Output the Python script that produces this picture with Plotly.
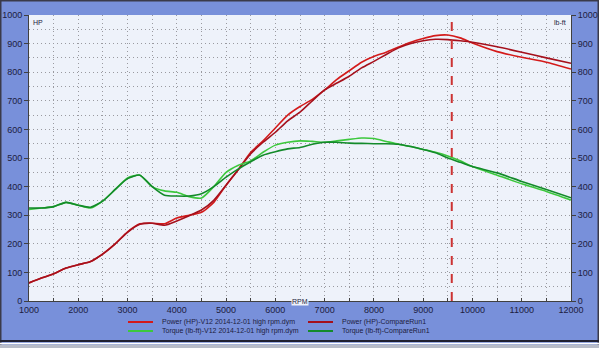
import plotly.graph_objects as go

rpm = [1000, 1250, 1500, 1750, 2000, 2250, 2500, 2750, 3000, 3250, 3500, 3750, 4000, 4250,
       4500, 4750, 5000, 5250, 5500, 5750, 6000, 6250, 6500, 6750, 7000, 7250, 7500, 7750,
       8000, 8250, 8500, 8750, 9000, 9250, 9500, 9750, 10000, 10500, 11000, 11500, 12000]

power_v12 = [63, 80, 95, 115, 127, 138, 165, 200, 242, 270, 272, 270, 290, 300,
             310, 345, 405, 460, 520, 560, 605, 650, 680, 705, 738, 775, 805, 835,
             855, 870, 888, 905, 918, 928, 930, 920, 902, 872, 852, 835, 811]

power_cmp = [63, 80, 95, 115, 127, 138, 165, 200, 240, 268, 272, 265, 280, 298,
             318, 352, 405, 460, 515, 555, 590, 630, 660, 700, 738, 762, 786, 815,
             838, 862, 885, 900, 910, 915, 914, 910, 905, 889, 870, 850, 831]

torque_v12 = [320, 325, 330, 345, 335, 325, 350, 390, 430, 440, 400, 385, 380, 365,
              360, 400, 450, 475, 490, 520, 545, 555, 560, 558, 555, 560, 565, 570,
              568, 558, 548, 540, 530, 520, 507, 490, 470, 440, 410, 383, 353]

torque_cmp = [325, 325, 330, 345, 335, 328, 350, 390, 428, 440, 400, 370, 367, 367,
              375, 400, 433, 462, 487, 510, 522, 532, 537, 548, 555, 555, 552, 551,
              550, 550, 548, 540, 530, 518, 500, 485, 470, 448, 418, 390, 361]

x_ticks = [1000, 2000, 3000, 4000, 5000, 6000, 7000, 8000, 9000, 10000, 11000, 12000]
y_ticks = [0, 100, 200, 300, 400, 500, 600, 700, 800, 900, 1000]

marker_rpm = 9580

series = [
    ("Power (HP)-V12 2014-12-01 high rpm.dym", power_v12, "#d41a1a"),
    ("Power (HP)-CompareRun1", power_cmp, "#a5101c"),
    ("Torque (lb-ft)-V12 2014-12-01 high rpm.dym", torque_v12, "#3cc83c"),
    ("Torque (lb-ft)-CompareRun1", torque_cmp, "#138a2a"),
]

W, H = 599, 348
L, R, T, B = 29, 28, 15, 47
PW, PH = W - L - R, H - T - B

def px(x):
    return (x - L) / PW

def py(y):
    return (H - B - y) / PH

fig = go.Figure()
for name, vals, col in series:
    fig.add_trace(go.Scatter(x=rpm, y=vals, mode="lines", name=name,
                             line=dict(color=col, width=1.6, shape="spline", smoothing=0.6),
                             showlegend=False))
fig.add_trace(go.Scatter(x=[rpm[0]], y=[0], yaxis="y2", mode="markers",
                         marker=dict(opacity=0), showlegend=False, hoverinfo="skip"))

fig.add_shape(type="line", xref="x", yref="paper", x0=marker_rpm, x1=marker_rpm, y0=0, y1=1,
              line=dict(color="#cc3333", width=2, dash="dash"))

tickfont = dict(family="Liberation Sans", size=9, color="#1c1c40")
GRID = "#9a9aa0"
DOT = "1px,3px"
axcommon = dict(showline=True, linecolor="#404040", linewidth=1, mirror=False,
                zeroline=False, automargin=False,
                tickfont=tickfont, ticks="outside", ticklen=4, tickcolor="#404040")

fig.update_layout(
    width=W, height=H,
    margin=dict(l=L, r=R, t=T, b=B, pad=0),
    paper_bgcolor="#7890da",
    plot_bgcolor="#eef2fa",
    xaxis=dict(range=[1000, 12000], tickvals=x_ticks, ticktext=[str(v) for v in x_ticks],
               showgrid=True, gridcolor=GRID, griddash=DOT, gridwidth=1,
               minor=dict(dtick=500, tick0=1000, showgrid=True, gridcolor=GRID,
                          griddash=DOT, ticks="inside", ticklen=3, tickcolor="#404040"),
               **{**axcommon, "ticks": "inside", "ticklen": 3}),
    yaxis=dict(range=[0, 1000], tickvals=y_ticks, ticktext=[str(v) for v in y_ticks],
               showgrid=True, gridcolor=GRID, griddash=DOT, gridwidth=1,
               minor=dict(dtick=50, tick0=0, showgrid=True, gridcolor=GRID,
                          griddash=DOT), **axcommon),
    yaxis2=dict(range=[0, 1000], tickvals=y_ticks, ticktext=[str(v) for v in y_ticks],
                overlaying="y", side="right", showgrid=False, **axcommon),
    showlegend=False,
)

small = dict(family="Liberation Sans", size=7, color="#1c1c40")
fig.add_annotation(xref="paper", yref="paper", x=px(31), y=py(17), text="HP",
                   showarrow=False, xanchor="left", yanchor="top", font=small)
fig.add_annotation(xref="paper", yref="paper", x=px(568), y=py(17), text="lb-ft",
                   showarrow=False, xanchor="right", yanchor="top", font=small)
fig.add_annotation(xref="paper", yref="paper", x=px(300), y=py(301), text="RPM",
                   showarrow=False, xanchor="center", yanchor="middle", font=small,
                   bgcolor="#eef2fa", borderpad=0)

legend_pos = [(128, 322), (308, 322), (128, 331), (308, 331)]
for (name, vals, col), (lx, ly) in zip(series, legend_pos):
    fig.add_shape(type="line", xref="paper", yref="paper", x0=px(lx), x1=px(lx + 25),
                  y0=py(ly), y1=py(ly), line=dict(color=col, width=2))
    fig.add_annotation(xref="paper", yref="paper", x=px(lx + 32), y=py(ly), text=name,
                       showarrow=False, xanchor="left", yanchor="middle", font=small)

# window frame
fig.add_shape(type="rect", xref="paper", yref="paper", x0=px(0.5), x1=px(W - 0.5),
              y0=py(H - 0.5), y1=py(0.5), line=dict(color="#3a3a4a", width=2), layer="below")
fig.add_shape(type="line", xref="paper", yref="paper", x0=px(0), x1=px(W),
              y0=py(341), y1=py(341), line=dict(color="#202030", width=2))
fig.add_shape(type="line", xref="paper", yref="paper", x0=px(0), x1=px(W),
              y0=py(343.5), y1=py(343.5), line=dict(color="#ffffff", width=1.5))
fig.add_shape(type="rect", xref="paper", yref="paper", x0=px(0), x1=px(W),
              y0=py(H), y1=py(344.5), line=dict(width=0), fillcolor="#b8bcc8")

fig.write_html("out.html", config={"displayModeBar": False},
               post_script="document.body.style.margin='0';document.body.style.padding='0';")
